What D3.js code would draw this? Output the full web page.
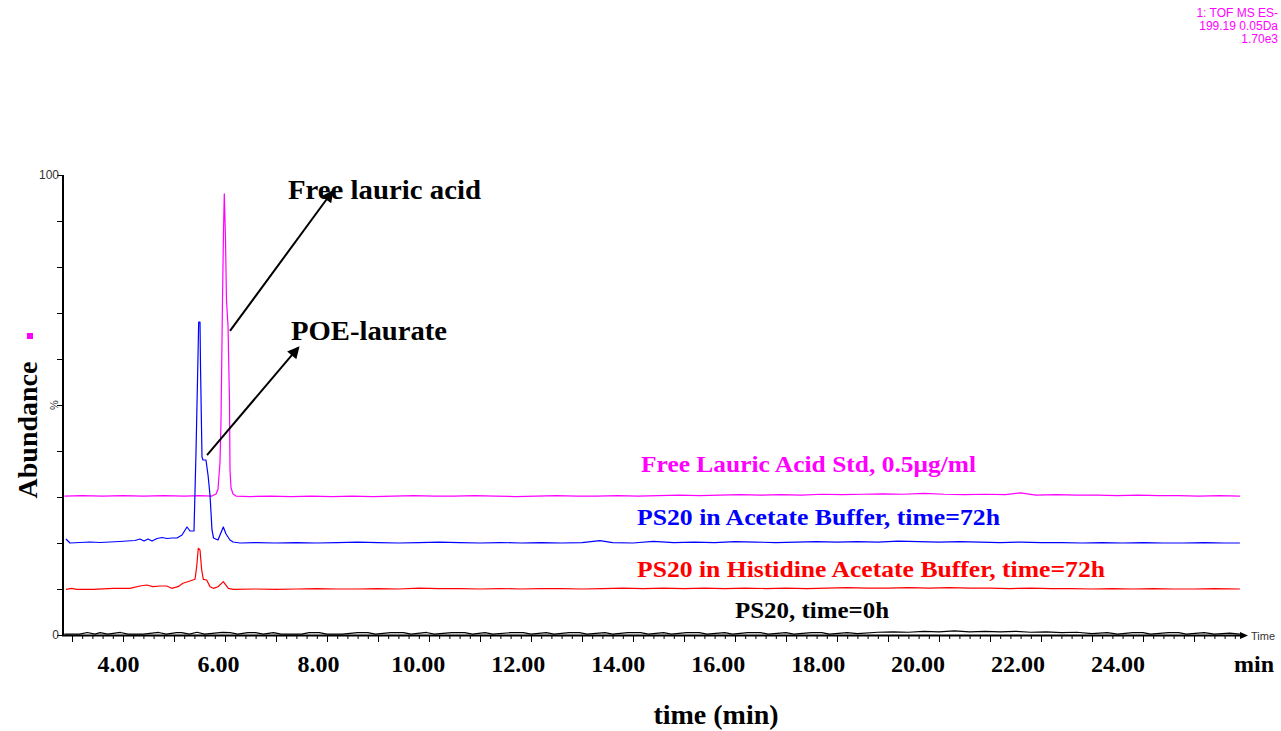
<!DOCTYPE html>
<html><head><meta charset="utf-8">
<script src="https://cdn.jsdelivr.net/npm/d3@7"></script>
<style>html,body{margin:0;padding:0;background:#fff;}svg{display:block;}</style>
</head><body>
<svg id="chart" width="1281" height="731"></svg>
<script>
// ---------- DATA ----------
// time (instrument minutes) and relative abundance (%)
const stdTrace = [[2.85,30.2],[3.2,30.3],[3.6,30.2],[4.0,30.3],[4.4,30.2],[4.8,30.3],[5.2,30.2],[5.5,30.3],[5.745,30.2],
 [5.824,30.65],[5.863,31.7],[5.902,37.6],[5.922,46.7],[5.951,72.8],[5.971,88.0],[5.986,95.9],[6.010,85.9],[6.029,72.8],
 [6.059,67.2],[6.088,51.1],[6.098,35.9],[6.118,32.0],[6.157,30.65],[6.216,30.2],[6.5,30.1],[6.9,30.2],[7.3,30.1],[7.7,30.2],
 [8.1,30.1],[8.5,30.2],[8.9,30.1],[9.3,30.2],[9.7,30.3],[10.1,30.2],[10.5,30.2],[10.9,30.3],[11.3,30.2],[11.7,30.1],[12.1,30.2],
 [12.5,30.3],[12.9,30.2],[13.3,30.2],[13.7,30.3],[14.1,30.2],[14.5,30.3],[14.9,30.4],[15.3,30.3],[15.7,30.4],[16.1,30.5],
 [16.5,30.4],[16.9,30.5],[17.3,30.4],[17.7,30.6],[18.1,30.5],[18.5,30.6],[18.9,30.7],[19.3,30.6],[19.7,30.8],[20.1,30.6],
 [20.5,30.5],[20.9,30.6],[21.3,30.5],[21.6,30.9],[21.9,30.4],[22.3,30.5],[22.7,30.4],[23.1,30.4],[23.5,30.3],[23.9,30.4],
 [24.3,30.3],[24.7,30.3],[25.1,30.2],[25.5,30.3],[25.9,30.2]];

const acetateTrace = [[2.882,20.87],[2.961,20.0],[3.157,20.11],[3.353,20.22],[3.549,20.11],[3.745,20.22],[3.941,20.33],
 [4.078,20.43],[4.235,20.54],[4.333,20.87],[4.412,20.43],[4.490,20.87],[4.569,20.43],[4.667,20.98],[4.765,21.2],[4.863,20.98],
 [4.961,21.09],[5.059,21.09],[5.157,21.74],[5.255,23.48],[5.314,22.61],[5.392,22.61],[5.431,39.57],[5.461,55.43],[5.484,68.04],
 [5.510,68.04],[5.520,58.26],[5.549,38.7],[5.569,38.04],[5.627,38.04],[5.667,34.78],[5.706,30.43],[5.745,22.83],[5.775,21.09],
 [5.863,20.65],[5.902,21.74],[5.967,23.48],[6.020,21.96],[6.098,20.65],[6.157,20.22],[6.294,20.0],[6.6,20.1],[7.0,20.0],
 [7.4,20.1],[7.8,20.0],[8.2,20.1],[8.6,20.2],[9.0,20.1],[9.4,20.0],[9.8,20.1],[10.2,20.2],[10.6,20.1],[11.0,20.0],[11.4,20.1],
 [11.8,20.0],[12.2,20.1],[12.6,20.0],[13.0,20.1],[13.35,20.5],[13.6,20.1],[14.0,20.0],[14.4,20.35],[14.8,20.1],[15.2,20.2],
 [15.6,20.1],[16.0,20.3],[16.4,20.2],[16.8,20.1],[17.2,20.2],[17.6,20.3],[18.0,20.2],[18.4,20.3],[18.8,20.2],[19.2,20.4],
 [19.6,20.3],[20.0,20.2],[20.4,20.3],[20.8,20.2],[21.2,20.1],[21.6,20.2],[22.0,20.1],[22.4,20.1],[22.8,20.0],[23.2,20.1],
 [23.6,20.0],[24.0,20.1],[24.4,20.0],[24.8,20.0],[25.2,20.1],[25.6,20.0],[25.9,20.0]];

const histidineTrace = [[2.882,9.93],[2.994,10.15],[3.092,9.93],[3.412,9.93],[3.804,10.15],[4.137,10.15],[4.333,10.65],
 [4.465,10.87],[4.588,10.5],[4.725,10.65],[4.857,10.65],[4.955,10.15],[5.078,10.5],[5.176,11.24],[5.314,11.74],[5.412,12.11],
 [5.445,14.85],[5.476,18.85],[5.510,18.48],[5.543,14.13],[5.575,12.11],[5.641,11.96],[5.706,10.5],[5.771,10.15],[5.863,10.5],
 [5.967,11.59],[6.065,10.15],[6.163,9.93],[6.6,10.0],[7.0,9.9],[7.4,10.0],[7.8,10.1],[8.2,10.0],[8.6,10.0],[9.0,10.1],[9.4,10.0],
 [9.8,10.2],[10.2,10.1],[10.6,10.1],[11.0,10.0],[11.4,10.1],[11.8,10.0],[12.2,10.1],[12.6,10.1],[13.0,10.0],[13.4,10.1],
 [13.8,10.2],[14.2,10.1],[14.6,10.2],[15.0,10.1],[15.4,10.2],[15.8,10.1],[16.2,10.2],[16.6,10.1],[17.0,10.2],[17.4,10.1],
 [17.8,10.2],[18.2,10.3],[18.6,10.2],[19.0,10.2],[19.4,10.3],[19.8,10.2],[20.2,10.3],[20.6,10.2],[21.0,10.2],[21.4,10.1],
 [21.8,10.2],[22.2,10.1],[22.6,10.1],[23.0,10.0],[23.4,10.1],[23.8,10.0],[24.2,10.1],[24.6,10.0],[25.0,10.0],[25.4,10.1],[25.9,10.0]];

const t0Trace = [[2.85,0.2],[3.15,0.2],[3.3,0.55],[3.45,0.2],[3.55,0.5],[3.7,0.2],[3.95,0.55],[4.1,0.2],[4.4,0.2],[4.7,0.55],
 [4.85,0.2],[5.05,0.5],[5.15,0.5],[5.3,0.2],[5.45,0.6],[5.6,0.2],[5.95,0.55],[6.1,0.5],[6.25,0.2],[6.45,0.5],[6.6,0.5],[6.75,0.2],
 [6.95,0.5],[7.1,0.2],[7.5,0.2],[7.65,0.5],[7.85,0.5],[8.0,0.2],[8.3,0.2],[8.6,0.5],[8.8,0.5],[8.95,0.2],[9.25,0.5],[9.5,0.5],
 [9.65,0.2],[9.95,0.55],[10.1,0.2],[10.45,0.5],[10.7,0.5],[10.85,0.2],[11.1,0.5],[11.25,0.2],[11.6,0.5],[11.85,0.5],[12.0,0.2],
 [12.3,0.5],[12.45,0.2],[12.75,0.5],[12.95,0.5],[13.1,0.2],[13.45,0.5],[13.6,0.2],[13.9,0.5],[14.15,0.5],[14.3,0.2],[14.6,0.5],
 [14.75,0.2],[15.05,0.5],[15.3,0.5],[15.45,0.2],[15.8,0.5],[15.95,0.2],[16.25,0.5],[16.5,0.5],[16.65,0.2],[17.0,0.5],[17.15,0.2],
 [17.5,0.5],[17.7,0.5],[17.85,0.2],[18.2,0.5],[18.4,0.3],[18.8,0.6],[19.1,0.7],[19.4,0.6],[19.7,0.8],[20.0,0.7],[20.3,0.9],
 [20.6,0.7],[20.9,0.8],[21.2,0.7],[21.5,0.8],[21.8,0.6],[22.1,0.7],[22.4,0.5],[22.7,0.6],[23.0,0.3],[23.3,0.5],[23.5,0.2],
 [23.8,0.5],[24.0,0.5],[24.15,0.2],[24.5,0.5],[24.7,0.5],[24.85,0.2],[25.2,0.5],[25.4,0.2],[25.7,0.4],[25.9,0.2]];

const seriesNames = ["Free Lauric Acid Std, 0.5μg/ml","PS20 in Acetate Buffer, time=72h",
  "PS20 in Histidine Acetate Buffer, time=72h","PS20, time=0h"];
const seriesColors = ["#ff00ff","#0000ff","#ff0000","#000000"];
// label anchor [time, abundance] for each trace name
const seriesLabelPos = [[14.157,35.4],[14.078,23.9],[14.078,12.6],[16.0,3.7]];
const seriesLabelWidth = [335,363,468,154];

const xTickLabels = [4,6,8,10,12,14,16,18,20,22,24];
const yTicks = [0,10,20,30,40,50,60,70,80,90,100];
const headerLines = ["1: TOF MS ES-","199.19 0.05Da","1.70e3"];

// annotations: text, label anchor, arrow start, arrow tip (time, abundance)
const annotations = [
  {text:"Free lauric acid", at:[7.235,94.8], from:[6.098,66.1], to:[8.098,96.3], width:193},
  {text:"POE-laurate", at:[7.294,64.1], from:[5.647,39.1], to:[7.431,62.4], width:156}
];

// ---------- CHART ----------
const svg = d3.select("#chart");
const x = d3.scaleLinear().domain([4,24]).range([123,1143]);        // instrument time axis
const xLab = d3.scaleLinear().domain([4,24]).range([118.5,1118]);   // overlay label positions
const y = d3.scaleLinear().domain([0,100]).range([635,175]);

const serif = "'Liberation Serif','Times New Roman',serif";
const sans = "'Liberation Sans',Arial,sans-serif";

// header
svg.append("g").selectAll("text").data(headerLines).join("text")
  .attr("x",1278).attr("y",(d,i)=>17+i*13.2).attr("text-anchor","end")
  .attr("font-family",sans).attr("font-size",12).attr("fill","#ff00ff").text(d=>d);

// traces
const line = d3.line().x(d=>x(d[0])).y(d=>y(d[1]));
[stdTrace,acetateTrace,histidineTrace,t0Trace].forEach((tr,i)=>{
  svg.append("path").datum(tr).attr("d",line).attr("fill","none")
    .attr("stroke",seriesColors[i]).attr("stroke-width",1.2).attr("stroke-linejoin","round");
});

// y axis
const yAxis = d3.axisLeft(y).tickValues(yTicks).tickSize(6)
  .tickFormat(d => (d===0||d===100) ? d : "");
const gy = svg.append("g").attr("transform","translate(63,0)").call(yAxis);
gy.select(".domain").remove();
gy.selectAll(".tick line").attr("stroke","#000").attr("stroke-width",1);
gy.selectAll(".tick text").attr("font-family",sans).attr("font-size",12).attr("fill","#333").attr("x",-4);
svg.append("line").attr("x1",63).attr("x2",63).attr("y1",y(100)).attr("y2",y(0)+1)
  .attr("stroke","#000").attr("stroke-width",2);
svg.append("text").attr("transform",`translate(58,${y(50)}) rotate(-90)`).attr("text-anchor","middle")
  .attr("font-family",sans).attr("font-size",11).attr("fill","#333").text("%");

// x axis ticks (instrument)
const minorTicks = d3.range(3.0,25.81,0.2).map(v=>+v.toFixed(1));
const majorTicks = d3.range(3,26,1);
const gxMinor = svg.append("g").attr("transform","translate(0,635)")
  .call(d3.axisBottom(x).tickValues(minorTicks).tickSize(4).tickFormat(""));
gxMinor.select(".domain").remove();
const gxMajor = svg.append("g").attr("transform","translate(0,635)")
  .call(d3.axisBottom(x).tickValues(majorTicks).tickSize(7).tickFormat(""));
gxMajor.select(".domain").remove();
svg.selectAll(".tick line").attr("stroke","#000");
svg.append("line").attr("x1",62).attr("x2",1243).attr("y1",635.5).attr("y2",635.5)
  .attr("stroke","#000").attr("stroke-width",2);
svg.append("path").attr("d","M1240,632 L1248,635.5 L1240,639 Z").attr("fill","#000");
svg.append("text").attr("x",1251).attr("y",640).attr("font-family",sans).attr("font-size",11)
  .attr("fill","#333").text("Time");

// overlay tick labels
svg.append("g").selectAll("text").data(xTickLabels).join("text")
  .attr("x",d=>xLab(d)).attr("y",672).attr("text-anchor","middle")
  .attr("font-family",serif).attr("font-weight","bold").attr("font-size",24).attr("fill","#000")
  .text(d=>d.toFixed(2));
svg.append("text").attr("x",1254).attr("y",672).attr("text-anchor","middle")
  .attr("font-family",serif).attr("font-weight","bold").attr("font-size",24).text("min");

// axis titles
svg.append("text").attr("x",716).attr("y",724).attr("text-anchor","middle")
  .attr("font-family",serif).attr("font-weight","bold").attr("font-size",28).text("time (min)");
svg.append("text").attr("transform","translate(37,430) rotate(-90)").attr("text-anchor","middle")
  .attr("font-family",serif).attr("font-weight","bold").attr("font-size",28).text("Abundance");
svg.append("rect").attr("x",27).attr("y",333).attr("width",6).attr("height",6).attr("fill","#ff00ff");

// series labels
svg.append("g").selectAll("text").data(seriesNames).join("text")
  .attr("x",(d,i)=>x(seriesLabelPos[i][0])).attr("y",(d,i)=>y(seriesLabelPos[i][1]))
  .attr("font-family",serif).attr("font-weight","bold").attr("font-size",23)
  .attr("fill",(d,i)=>seriesColors[i])
  .attr("textLength",(d,i)=>seriesLabelWidth[i]).attr("lengthAdjust","spacingAndGlyphs")
  .text(d=>d);

// annotations
const defs = svg.append("defs");
defs.append("marker").attr("id","arr").attr("viewBox","0 0 10 10").attr("refX",8).attr("refY",5)
  .attr("markerWidth",7).attr("markerHeight",6).attr("markerUnits","strokeWidth").attr("orient","auto")
  .append("path").attr("d","M0,0 L10,5 L0,10 Z").attr("fill","#000");
annotations.forEach(a=>{
  svg.append("line").attr("x1",x(a.from[0])).attr("y1",y(a.from[1]))
    .attr("x2",x(a.to[0])).attr("y2",y(a.to[1])).attr("stroke","#000").attr("stroke-width",2)
    .attr("marker-end","url(#arr)");
  svg.append("text").attr("x",x(a.at[0])).attr("y",y(a.at[1]))
    .attr("font-family",serif).attr("font-weight","bold").attr("font-size",27)
    .attr("textLength",a.width).attr("lengthAdjust","spacingAndGlyphs").text(a.text);
});
</script>
</body></html>
